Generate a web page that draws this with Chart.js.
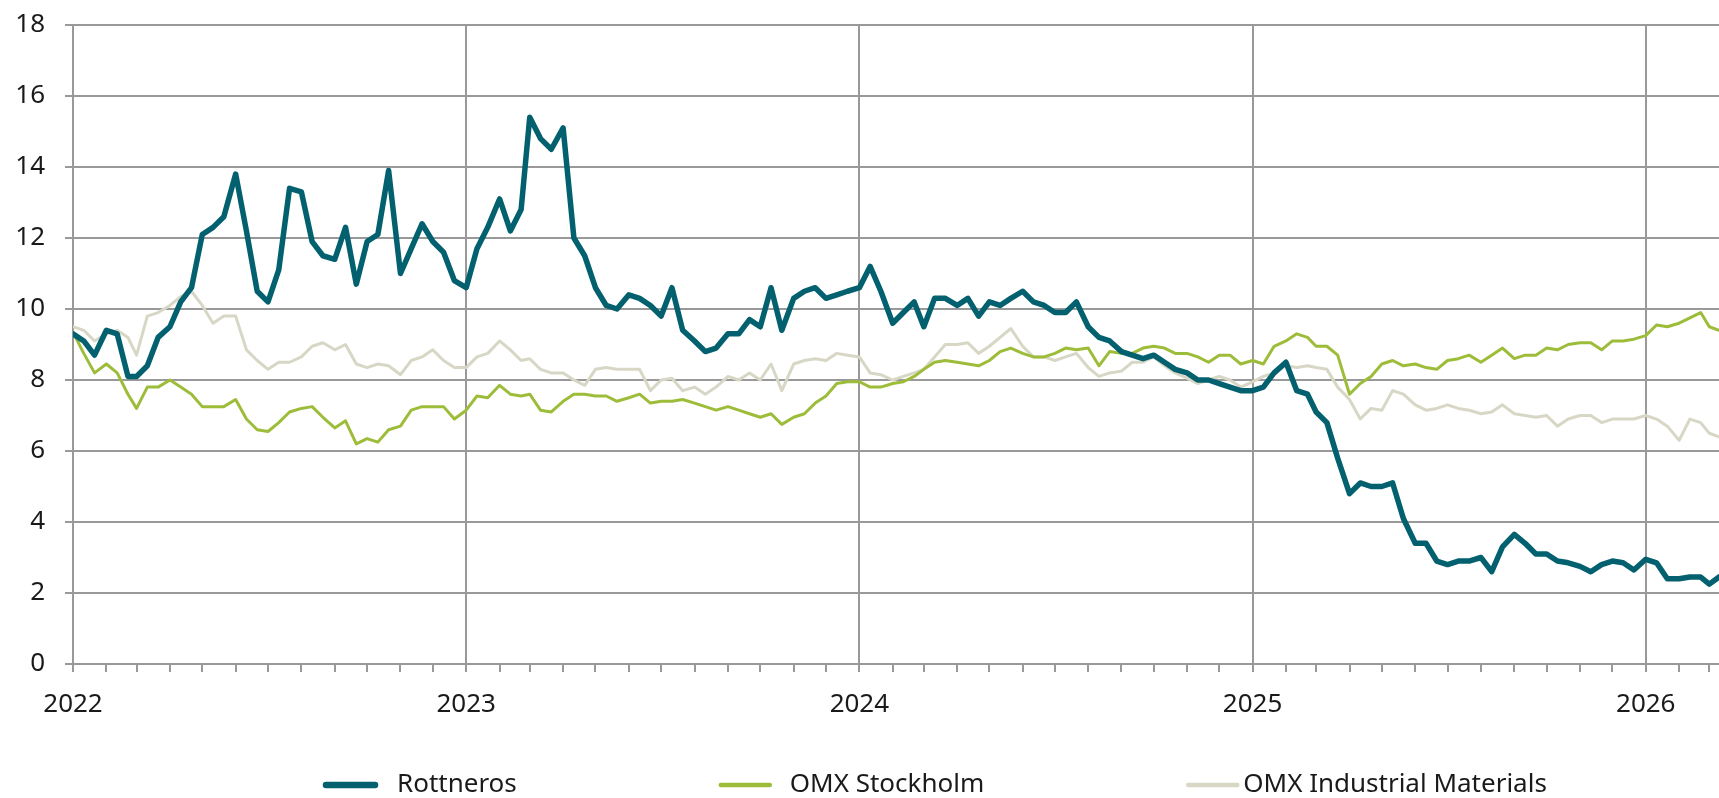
<!DOCTYPE html>
<html>
<head>
<meta charset="utf-8">
<script src="https://cdn.jsdelivr.net/npm/chart.js@4.4.1/dist/chart.umd.min.js"></script>
<style>
  html, body { margin: 0; padding: 0; background: #fff; }
  #wrap { width: 1719px; height: 798px; position: relative; }
</style>
</head>
<body>
<div id="wrap"><canvas id="chart"></canvas></div>
<script>
// sample dates (1st, 11th, 21st of each month)
const dates = [
  '2022-01-01','2022-01-11','2022-01-21','2022-02-01','2022-02-11','2022-02-21','2022-03-01','2022-03-11','2022-03-21','2022-04-01','2022-04-11','2022-04-21',
  '2022-05-01','2022-05-11','2022-05-21','2022-06-01','2022-06-11','2022-06-21','2022-07-01','2022-07-11','2022-07-21','2022-08-01','2022-08-11','2022-08-21',
  '2022-09-01','2022-09-11','2022-09-21','2022-10-01','2022-10-11','2022-10-21','2022-11-01','2022-11-11','2022-11-21','2022-12-01','2022-12-11','2022-12-21',
  '2023-01-01','2023-01-11','2023-01-21','2023-02-01','2023-02-11','2023-02-21','2023-03-01','2023-03-11','2023-03-21','2023-04-01','2023-04-11','2023-04-21',
  '2023-05-01','2023-05-11','2023-05-21','2023-06-01','2023-06-11','2023-06-21','2023-07-01','2023-07-11','2023-07-21','2023-08-01','2023-08-11','2023-08-21',
  '2023-09-01','2023-09-11','2023-09-21','2023-10-01','2023-10-11','2023-10-21','2023-11-01','2023-11-11','2023-11-21','2023-12-01','2023-12-11','2023-12-21',
  '2024-01-01','2024-01-11','2024-01-21','2024-02-01','2024-02-11','2024-02-21','2024-03-01','2024-03-11','2024-03-21','2024-04-01','2024-04-11','2024-04-21',
  '2024-05-01','2024-05-11','2024-05-21','2024-06-01','2024-06-11','2024-06-21','2024-07-01','2024-07-11','2024-07-21','2024-08-01','2024-08-11','2024-08-21',
  '2024-09-01','2024-09-11','2024-09-21','2024-10-01','2024-10-11','2024-10-21','2024-11-01','2024-11-11','2024-11-21','2024-12-01','2024-12-11','2024-12-21',
  '2025-01-01','2025-01-11','2025-01-21','2025-02-01','2025-02-11','2025-02-21','2025-03-01','2025-03-11','2025-03-21','2025-04-01','2025-04-11','2025-04-21',
  '2025-05-01','2025-05-11','2025-05-21','2025-06-01','2025-06-11','2025-06-21','2025-07-01','2025-07-11','2025-07-21','2025-08-01','2025-08-11','2025-08-21',
  '2025-09-01','2025-09-11','2025-09-21','2025-10-01','2025-10-11','2025-10-21','2025-11-01','2025-11-11','2025-11-21','2025-12-01','2025-12-11','2025-12-21',
  '2026-01-01','2026-01-11','2026-01-21','2026-02-01','2026-02-11','2026-02-21','2026-03-01','2026-03-10'
];

const years = [2022, 2023, 2024, 2025, 2026];

const rottneros = [
  9.3, 9.1, 8.7, 9.4, 9.3, 8.1, 8.1, 8.4, 9.2, 9.5, 10.2, 10.6,
  12.1, 12.3, 12.6, 13.8, 12.2, 10.5, 10.2, 11.1, 13.4, 13.3, 11.9, 11.5,
  11.4, 12.3, 10.7, 11.9, 12.1, 13.9, 11.0, 11.7, 12.4, 11.9, 11.6, 10.8,
  10.6, 11.7, 12.3, 13.1, 12.2, 12.8, 15.4, 14.8, 14.5, 15.1, 12.0, 11.5,
  10.6, 10.1, 10.0, 10.4, 10.3, 10.1, 9.8, 10.6, 9.4, 9.1, 8.8, 8.9,
  9.3, 9.3, 9.7, 9.5, 10.6, 9.4, 10.3, 10.5, 10.6, 10.3, 10.4, 10.5,
  10.6, 11.2, 10.5, 9.6, 9.9, 10.2, 9.5, 10.3, 10.3, 10.1, 10.3, 9.8,
  10.2, 10.1, 10.3, 10.5, 10.2, 10.1, 9.9, 9.9, 10.2, 9.5, 9.2, 9.1,
  8.8, 8.7, 8.6, 8.7, 8.5, 8.3, 8.2, 8.0, 8.0, 7.9, 7.8, 7.7,
  7.7, 7.8, 8.2, 8.5, 7.7, 7.6, 7.1, 6.8, 5.8, 4.8, 5.1, 5.0,
  5.0, 5.1, 4.1, 3.4, 3.4, 2.9, 2.8, 2.9, 2.9, 3.0, 2.6, 3.3,
  3.65, 3.4, 3.1, 3.1, 2.9, 2.85, 2.75, 2.6, 2.8, 2.9, 2.85, 2.65,
  2.95, 2.85, 2.4, 2.4, 2.45, 2.45, 2.25, 2.45
];

const omxStockholm = [
  9.35, 8.75, 8.2, 8.45, 8.2, 7.6, 7.2, 7.8, 7.8, 8.0, 7.8, 7.6,
  7.25, 7.25, 7.25, 7.45, 6.9, 6.6, 6.55, 6.8, 7.1, 7.2, 7.25, 6.95,
  6.65, 6.85, 6.2, 6.35, 6.25, 6.6, 6.7, 7.15, 7.25, 7.25, 7.25, 6.9,
  7.15, 7.55, 7.5, 7.85, 7.6, 7.55, 7.6, 7.15, 7.1, 7.4, 7.6, 7.6,
  7.55, 7.55, 7.4, 7.5, 7.6, 7.35, 7.4, 7.4, 7.45, 7.35, 7.25, 7.15,
  7.25, 7.15, 7.05, 6.95, 7.05, 6.75, 6.95, 7.05, 7.35, 7.55, 7.9, 7.95,
  7.95, 7.8, 7.8, 7.9, 7.95, 8.1, 8.3, 8.5, 8.55, 8.5, 8.45, 8.4,
  8.55, 8.8, 8.9, 8.75, 8.65, 8.65, 8.75, 8.9, 8.85, 8.9, 8.4, 8.8,
  8.75, 8.75, 8.9, 8.95, 8.9, 8.75, 8.75, 8.65, 8.5, 8.7, 8.7, 8.45,
  8.55, 8.45, 8.95, 9.1, 9.3, 9.2, 8.95, 8.95, 8.7, 7.6, 7.9, 8.1,
  8.45, 8.55, 8.4, 8.45, 8.35, 8.3, 8.55, 8.6, 8.7, 8.5, 8.7, 8.9,
  8.6, 8.7, 8.7, 8.9, 8.85, 9.0, 9.05, 9.05, 8.85, 9.1, 9.1, 9.15,
  9.25, 9.55, 9.5, 9.6, 9.75, 9.9, 9.5, 9.4
];

const omxIndustrial = [
  9.5, 9.4, 9.1, 9.3, 9.4, 9.2, 8.7, 9.8, 9.9, 10.1, 10.35, 10.5,
  10.1, 9.6, 9.8, 9.8, 8.85, 8.55, 8.3, 8.5, 8.5, 8.65, 8.95, 9.05,
  8.85, 9.0, 8.45, 8.35, 8.45, 8.4, 8.15, 8.55, 8.65, 8.85, 8.55, 8.35,
  8.35, 8.65, 8.75, 9.1, 8.85, 8.55, 8.6, 8.3, 8.2, 8.2, 8.0, 7.85,
  8.3, 8.35, 8.3, 8.3, 8.3, 7.7, 8.0, 8.05, 7.7, 7.8, 7.6, 7.8,
  8.1, 8.0, 8.2, 8.0, 8.45, 7.7, 8.45, 8.55, 8.6, 8.55, 8.75, 8.7,
  8.65, 8.2, 8.15, 8.0, 8.1, 8.2, 8.3, 8.65, 9.0, 9.0, 9.05, 8.75,
  8.95, 9.2, 9.45, 8.95, 8.65, 8.65, 8.55, 8.65, 8.75, 8.35, 8.1, 8.2,
  8.25, 8.5, 8.5, 8.65, 8.4, 8.2, 8.05, 7.9, 8.0, 8.1, 8.0, 7.8,
  7.95, 8.1, 8.2, 8.4, 8.35, 8.4, 8.35, 8.3, 7.8, 7.45, 6.9, 7.2,
  7.15, 7.7, 7.6, 7.3, 7.15, 7.2, 7.3, 7.2, 7.15, 7.05, 7.1, 7.3,
  7.05, 7.0, 6.95, 7.0, 6.7, 6.9, 7.0, 7.0, 6.8, 6.9, 6.9, 6.9,
  7.0, 6.9, 6.7, 6.3, 6.9, 6.8, 6.5, 6.4
];

// date string -> fractional year
function toYear(s) {
  const [y, m, d] = s.split('-').map(Number);
  const start = Date.UTC(y, 0, 1);
  const end = Date.UTC(y + 1, 0, 1);
  return y + (Date.UTC(y, m - 1, d) - start) / (end - start);
}

const xs = dates.map(toYear);
const xMax = xs[xs.length - 1];
const toPoints = vals => vals.map((v, i) => ({ x: xs[i], y: v }));

// monthly tick marks, labels only at year starts
const monthTicks = [];
years.forEach(y => {
  for (let m = 1; m <= 12; m++) {
    const v = toYear(y + '-' + String(m).padStart(2, '0') + '-01');
    if (v <= xMax) monthTicks.push(v);
  }
});

const gridGrey = '#999999';

Chart.defaults.font.family = '"Noto Sans", sans-serif';
Chart.defaults.font.size = 26;
Chart.defaults.color = '#1a1a1a';

// legend drawn under the axis
const bottomLegend = {
  id: 'bottomLegend',
  afterDraw(chart) {
    const ctx = chart.ctx;
    const y = chart.height - 13;
    let x = 323;
    ctx.save();
    ctx.font = '26px "Noto Sans", sans-serif';
    ctx.textBaseline = 'middle';
    ctx.lineCap = 'round';
    chart.data.datasets.forEach(ds => {
      ctx.strokeStyle = ds.borderColor;
      ctx.lineWidth = ds.legendWidth;
      ctx.beginPath();
      ctx.moveTo(x + 3, y);
      ctx.lineTo(x + 52, y);
      ctx.stroke();
      ctx.fillStyle = '#1a1a1a';
      ctx.fillText(ds.label, x + ds.legendText, y);
      x += ds.legendText + ctx.measureText(ds.label).width + 201;
    });
    ctx.restore();
  }
};

new Chart(document.getElementById('chart'), {
  type: 'line',
  data: {
    datasets: [{
      label: 'Rottneros',
      data: toPoints(rottneros),
      borderColor: '#03616f',
      borderWidth: 5.5,
      legendWidth: 6.5,
      legendText: 74
    }, {
      label: 'OMX Stockholm',
      data: toPoints(omxStockholm),
      borderColor: '#9dbd3a',
      borderWidth: 3,
      legendWidth: 4.5,
      legendText: 72
    }, {
      label: 'OMX Industrial Materials',
      data: toPoints(omxIndustrial),
      borderColor: '#d8d7c6',
      borderWidth: 3,
      legendWidth: 4.5,
      legendText: 58
    }]
  },
  options: {
    responsive: true,
    maintainAspectRatio: false,
    animation: false,
    devicePixelRatio: 1,
    layout: { autoPadding: false, padding: { top: 25, right: 0, bottom: 0, left: 0 } },
    plugins: {
      legend: { display: false },
      tooltip: { enabled: false }
    },
    elements: {
      point: { radius: 0 },
      line: { tension: 0, borderJoinStyle: 'round', borderCapStyle: 'round' }
    },
    scales: {
      x: {
        type: 'linear',
        min: 2022,
        max: xMax,
        afterBuildTicks: s => { s.ticks = monthTicks.map(v => ({ value: v })); },
        afterFit: s => { s.height = 134; s.paddingLeft = 0; s.paddingRight = 0; },
        ticks: {
          autoSkip: false,
          maxRotation: 0,
          minRotation: 0,
          padding: 17,
          callback: v => Number.isInteger(v) ? String(v) : ''
        },
        grid: {
          color: c => (c.tick && Number.isInteger(c.tick.value)) ? gridGrey : 'rgba(0,0,0,0)',
          lineWidth: 2,
          tickColor: gridGrey,
          tickLength: 8,
          tickWidth: 2
        },
        border: { color: gridGrey, width: 2 }
      },
      y: {
        min: 0,
        max: 18,
        afterFit: s => { s.width = 73; s.paddingTop = 0; s.paddingBottom = 0; },
        ticks: { stepSize: 2, padding: 20 },
        grid: { color: gridGrey, lineWidth: 2, tickLength: 8 },
        border: { color: gridGrey, width: 2 }
      }
    }
  },
  plugins: [bottomLegend]
});
</script>
</body>
</html>
